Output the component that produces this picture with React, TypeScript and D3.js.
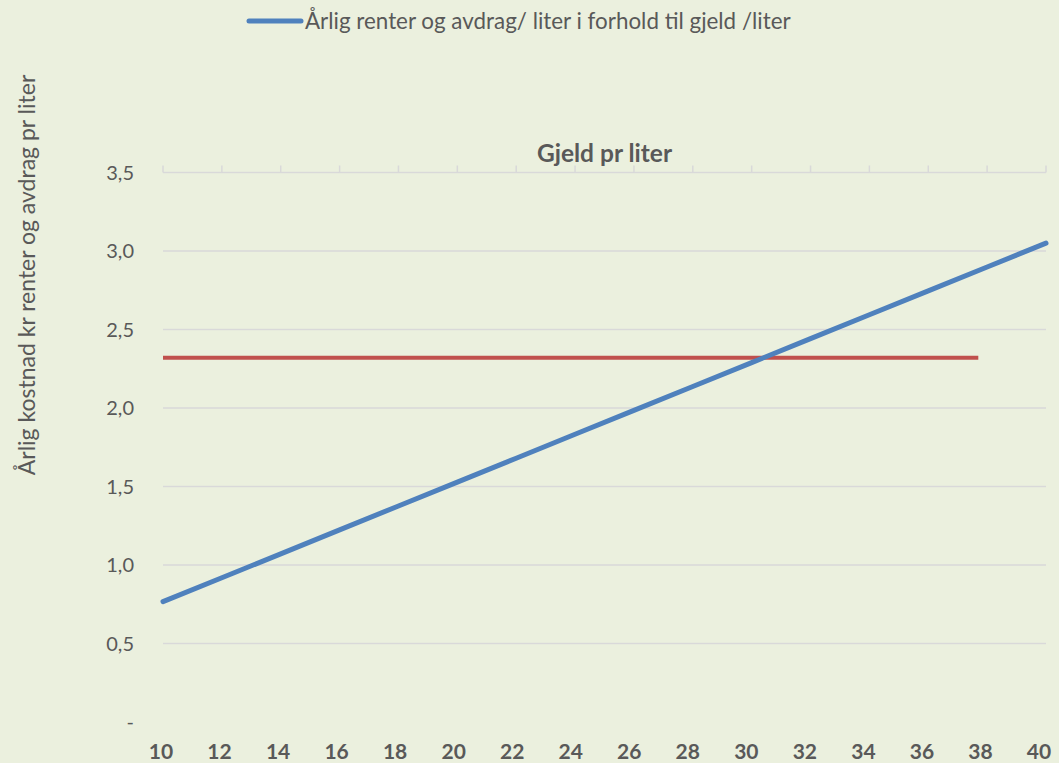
import React from "react";
import * as d3 from "d3";

const xCategories = [10, 12, 14, 16, 18, 20, 22, 24, 26, 28, 30, 32, 34, 36, 38, 40];
const blueX = [10, 12, 14, 16, 18, 20, 22, 24, 26, 28, 30, 32, 34, 36, 38, 40];
const blueY = [0.767, 0.919, 1.071, 1.224, 1.376, 1.528, 1.68, 1.833, 1.985, 2.137, 2.289, 2.442, 2.594, 2.746, 2.898, 3.05];
const redX = [10, 37.7];
const redY = [2.32, 2.32];
const yTicks = [0, 0.5, 1.0, 1.5, 2.0, 2.5, 3.0, 3.5];
const legendLabel = "Årlig renter og avdrag/ liter i forhold til gjeld /liter";
const xTitle = "Gjeld pr liter";
const yTitle = "Årlig kostnad kr renter og avdrag pr liter";

const W = 1059;
const H = 763;
const FONT = "Lato, 'Open Sans', sans-serif";
const TXT = "#595959";

export default function App() {
  const x = d3.scaleLinear().domain([10, 40]).range([163, 1046]);
  const xLabel = d3.scaleLinear().domain([10, 40]).range([161, 1039]);
  const y = d3.scaleLinear().domain([0, 3.5]).range([722, 172.5]);
  const line = d3
    .line<[number, number]>()
    .x((d) => x(d[0]))
    .y((d) => y(d[1]));
  const blue = blueX.map((v, i) => [v, blueY[i]] as [number, number]);
  const red = redX.map((v, i) => [v, redY[i]] as [number, number]);
  const fmt = (v: number) => (v === 0 ? "-" : v.toFixed(1).replace(".", ","));

  return (
    <svg
      width={W}
      height={H}
      style={{ position: "absolute", left: 0, top: 0, display: "block" }}
    >
      <rect x={0} y={0} width={W} height={H} fill="#EBF0DE" />
      {/* gridlines */}
      {yTicks
        .filter((t) => t > 0 && t < 3.5)
        .map((t) => (
          <line
            key={t}
            x1={x(10)}
            x2={x(40)}
            y1={y(t)}
            y2={y(t)}
            stroke="#D9D9D9"
            strokeWidth={1.5}
          />
        ))}
      {/* top axis */}
      <line x1={x(10)} x2={x(40)} y1={y(3.5)} y2={y(3.5)} stroke="#D9D9D9" strokeWidth={1.5} />
      {xCategories.map((c) => (
        <line
          key={c}
          x1={x(c)}
          x2={x(c)}
          y1={y(3.5)}
          y2={y(3.5) - 7}
          stroke="#D9D9D9"
          strokeWidth={1.5}
        />
      ))}
      {/* y tick labels */}
      {yTicks.map((t) => (
        <text
          key={t}
          x={134}
          y={y(t)}
          dy="0.35em"
          textAnchor="end"
          fontFamily={FONT}
          fontSize={20}
          fill={TXT}
        >
          {fmt(t)}
        </text>
      ))}
      {/* x tick labels */}
      {xCategories.map((c) => (
        <text
          key={c}
          x={xLabel(c)}
          y={752}
          dy="0.35em"
          textAnchor="middle"
          fontFamily={FONT}
          fontSize={21}
          fontWeight="bold"
          fill={TXT}
        >
          {c}
        </text>
      ))}
      {/* x title */}
      <text
        x={(x(10) + x(40)) / 2}
        y={153}
        dy="0.35em"
        textAnchor="middle"
        fontFamily={FONT}
        fontSize={24.5}
        fontWeight="bold"
        fill={TXT}
      >
        {xTitle}
      </text>
      {/* y title */}
      <text
        transform={`translate(27,275) rotate(-90)`}
        dy="0.35em"
        textAnchor="middle"
        fontFamily={FONT}
        fontSize={23}
        fill={TXT}
      >
        {yTitle}
      </text>
      {/* series */}
      <path d={line(red) || ""} fill="none" stroke="#C0504D" strokeWidth={4} />
      <path
        d={line(blue) || ""}
        fill="none"
        stroke="#4F81BD"
        strokeWidth={5}
        strokeLinecap="round"
      />
      {/* legend */}
      <line x1={249} x2={301} y1={21} y2={21} stroke="#4F81BD" strokeWidth={5} strokeLinecap="round" />
      <text x={305} y={21} dy="0.35em" fontFamily={FONT} fontSize={22.4} fill={TXT}>
        {legendLabel}
      </text>
    </svg>
  );
}
